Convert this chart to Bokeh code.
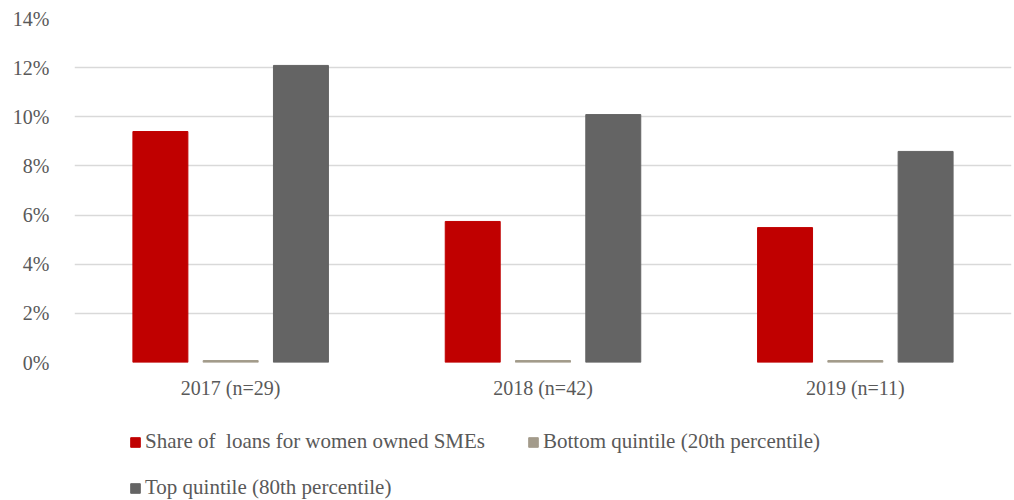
from bokeh.plotting import figure
from bokeh.layouts import column
from bokeh.models import ColumnDataSource, Legend, LegendItem, NumeralTickFormatter, FixedTicker, Range1d
from bokeh.transform import dodge
from bokeh.embed import file_html
from bokeh.resources import INLINE

categories = ["2017 (n=29)", "2018 (n=42)", "2019 (n=11)"]
share_women = [0.094, 0.0574, 0.0549]
bottom_quintile = [0.0008, 0.0008, 0.0008]
top_quintile = [0.1209, 0.1009, 0.0859]
series_names = ["Share of  loans for women owned SMEs",
                "Bottom quintile (20th percentile)",
                "Top quintile (80th percentile)"]
colors = ["#C00000", "#A39B8B", "#646464"]

src = ColumnDataSource(dict(cat=categories, a=share_women, b=bottom_quintile, c=top_quintile))

FONT = "Liberation Serif"
p = figure(x_range=categories, y_range=(0, 0.14), width=1014, height=402,
           output_backend="svg", toolbar_location=None,
           min_border_left=74, min_border_right=3, min_border_top=18, min_border_bottom=40)
p.outline_line_color = None
w = 0.176
off = 0.225
r1 = p.vbar(x=dodge("cat", -off, range=p.x_range), top="a", width=w, source=src, color=colors[0])
r2 = p.vbar(x=dodge("cat", 0, range=p.x_range), top="b", width=w, source=src, color=colors[1])
r3 = p.vbar(x=dodge("cat", off, range=p.x_range), top="c", width=w, source=src, color=colors[2])

p.yaxis.ticker = FixedTicker(ticks=[0, 0.02, 0.04, 0.06, 0.08, 0.10, 0.12, 0.14])
p.yaxis.formatter = NumeralTickFormatter(format="0%")
for ax in (p.xaxis[0], p.yaxis[0]):
    ax.axis_line_color = None
    ax.major_tick_line_color = None
    ax.minor_tick_line_color = None
    ax.major_label_text_font = FONT
    ax.major_label_text_font_size = "20px"
    ax.major_label_text_color = "#595959"
p.yaxis.major_label_standoff = 19
p.xaxis.major_label_standoff = 8
p.xgrid.grid_line_color = None
p.ygrid.grid_line_color = "#D9D9D9"
p.ygrid.grid_line_width = 1.5

# legend strip below the chart
lf = figure(width=1014, height=98, x_range=Range1d(0, 1), y_range=Range1d(0, 1),
            x_axis_type=None, y_axis_type=None,
            output_backend="svg", toolbar_location=None,
            min_border_left=74, min_border_right=3, min_border_top=0, min_border_bottom=0)
lf.grid.visible = False
lf.outline_line_color = None
lr = [lf.vbar(x=[0.5], top=[1], width=0.1, color=c, visible=False) for c in colors]

def mk_legend(name, rend, loc):
    return Legend(items=[LegendItem(label=name, renderers=[rend])],
                  orientation="horizontal", location=loc,
                  label_text_font=FONT, label_text_font_size="21px", label_text_color="#595959",
                  glyph_width=12, glyph_height=12, label_standoff=4, label_height=24,
                  inactive_fill_alpha=0, click_policy="none",
                  border_line_color=None, background_fill_alpha=0, padding=0, margin=0)

lf.add_layout(mk_legend(series_names[0], lr[0], (55, 46)))
lf.add_layout(mk_legend(series_names[1], lr[1], (453, 46)))
lf.add_layout(mk_legend(series_names[2], lr[2], (55, 0)))

open("out.html", "w").write(file_html(column(p, lf), INLINE))
